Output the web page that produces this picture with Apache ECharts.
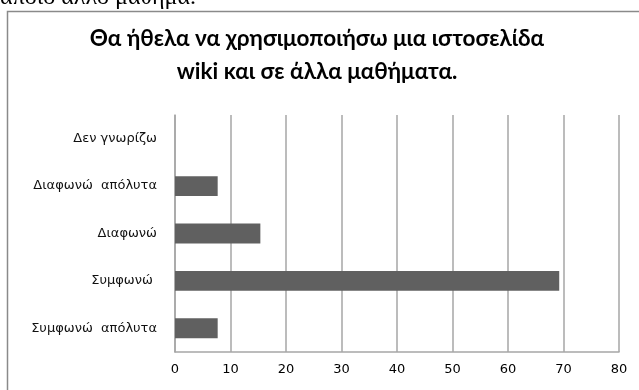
<!DOCTYPE html>
<html>
<head>
<meta charset="utf-8">
<style>
  html, body { margin: 0; padding: 0; background: #fff; }
  #chart { width: 639px; height: 390px; }
</style>
<script src="https://cdn.jsdelivr.net/npm/echarts@6/dist/echarts.min.js"></script>
</head>
<body>
<div id="chart"></div>
<script>
// Answers, listed bottom to top as the category axis draws them
const categories = ['Συμφωνώ  απόλυτα', 'Συμφωνώ ', 'Διαφωνώ', 'Διαφωνώ  απόλυτα', 'Δεν γνωρίζω'];
// Share of responses (%)
const percentages = [7.69, 69.23, 15.38, 7.69, 0];
const xTicks = [0, 10, 20, 30, 40, 50, 60, 70, 80];

const titleLines = ['Θα ήθελα να χρησιμοποιήσω μια ιστοσελίδα', 'wiki και σε άλλα μαθήματα.'];

const chart = echarts.init(document.getElementById('chart'), null, { renderer: 'canvas' });

chart.setOption({
  animation: false,
  backgroundColor: '#ffffff',
  graphic: [
    {
      // tail of the preceding document line, cut off at the top edge
      type: 'text',
      x: 196,
      y: 10,
      style: {
        text: 'κάποιο άλλο μάθημα.',
        font: '24px "Liberation Serif"',
        align: 'right',
        verticalAlign: 'bottom',
        fill: '#000'
      }
    },
    {
      // chart frame
      type: 'rect',
      shape: { x: 7.5, y: 11.5, width: 700, height: 450 },
      style: { fill: 'none', stroke: '#8a8a8a', lineWidth: 1.5 },
      z: -1
    },
    {
      type: 'text',
      x: 317,
      y: 22,
      style: {
        text: titleLines.join('\n'),
        font: 'bold 22.5px Lato',
        lineHeight: 33,
        align: 'center',
        fill: '#000'
      }
    }
  ],
  grid: { left: 175, right: 20, top: 115, bottom: 38, containLabel: false },
  xAxis: {
    type: 'value',
    min: xTicks[0],
    max: xTicks[xTicks.length - 1],
    interval: 10,
    axisLine: { show: true, lineStyle: { color: '#a6a6a6', width: 1.5 } },
    axisTick: { show: false },
    axisLabel: { color: '#000', fontFamily: 'DejaVu Sans', fontSize: 13, margin: 11 },
    splitLine: { show: true, lineStyle: { color: '#a6a6a6', width: 1.5 } }
  },
  yAxis: {
    type: 'category',
    data: categories,
    axisLine: { show: true, lineStyle: { color: '#a6a6a6', width: 1.5 } },
    axisTick: { show: false },
    axisLabel: { color: '#111', fontFamily: 'DejaVu Sans', fontSize: 13, margin: 18 }
  },
  series: [{
    type: 'bar',
    data: percentages,
    barCategoryGap: '58%',
    itemStyle: { color: '#606060' }
  }]
});
</script>
</body>
</html>
